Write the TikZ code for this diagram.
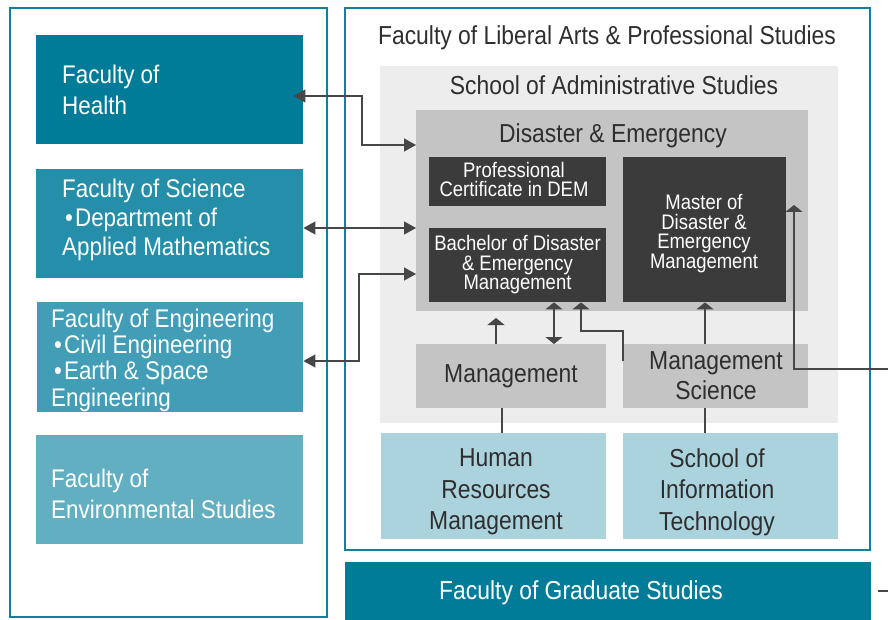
\documentclass[tikz,border=0pt]{standalone}
\usepackage{fontspec}
\setmainfont{Liberation Sans}[FakeStretch=0.88]
\usetikzlibrary{arrows.meta,positioning}
\lineskiplimit=-50pt

\definecolor{tealA}{HTML}{007B98}
\definecolor{tealB}{HTML}{258FA9}
\definecolor{tealC}{HTML}{419EB6}
\definecolor{tealD}{HTML}{63AFC2}
\definecolor{frameteal}{HTML}{11809C}
\definecolor{paleblue}{HTML}{ABD3DD}
\definecolor{greyA}{HTML}{EDEDED}
\definecolor{greyB}{HTML}{C4C4C4}
\definecolor{greyC}{HTML}{3B3B3B}
\definecolor{inkgrey}{HTML}{2E2E2E}
\definecolor{linegrey}{HTML}{464646}

\tikzset{
    block/.style={rectangle, draw=none, inner sep=0pt, anchor=north west},
    frame/.style={draw=frameteal, line width=2pt},
    bigtext/.style={font=\fontsize{26}{31}\selectfont, text=inkgrey, inner sep=0pt, align=center},
    smalltext/.style={font=\fontsize{21}{19.6}\selectfont, text=white, inner sep=0pt, align=center},
    lefttext/.style={font=\fontsize{25.5}{30}\selectfont, text=white, inner sep=0pt, align=left, anchor=west},
    conn/.style={draw=linegrey, line width=1.3pt},
    hboth/.style={conn, {Triangle[length=12pt,width=13pt]}-{Triangle[length=12pt,width=13pt]}},
    vup/.style={conn, -{Triangle[length=7pt,width=17pt]}},
    vboth/.style={conn, {Triangle[length=7pt,width=17pt]}-{Triangle[length=7pt,width=17pt]}}
}

\begin{document}
\begin{tikzpicture}[x=1pt, y=-1pt]
    \useasboundingbox (0,0) rectangle (888,620);

    % left column of faculties
    \draw[frame] (10,8) rectangle (326.5,616.5);
    \node[block, fill=tealA, minimum width=267pt, minimum height=109pt] (health) at (36,35) {};
    \node[block, fill=tealB, minimum width=267pt, minimum height=109pt] (science) at (36,169) {};
    \node[block, fill=tealC, minimum width=266pt, minimum height=110pt] (engin) at (37,302) {};
    \node[block, fill=tealD, minimum width=267pt, minimum height=109pt] (environ) at (36,435) {};

    \node[lefttext, font=\fontsize{25.5}{31}\selectfont] (healthtxt) at (62,90) {Faculty of\\Health};
    \node[lefttext, font=\fontsize{25.5}{29}\selectfont] (sciencetxt) at (62,219.5)
        {Faculty of Science\\\hspace{3pt}•\hspace{2pt}Department of\\Applied Mathematics};
    \node[lefttext, font=\fontsize{25.5}{26.3}\selectfont] (engintxt) at (51,360)
        {Faculty of Engineering\\\hspace{3pt}•\hspace{2pt}Civil Engineering\\\hspace{3pt}•\hspace{2pt}Earth \& Space\\Engineering};
    \node[lefttext, font=\fontsize{25.5}{31}\selectfont] (environtxt) at (51,493.4) {Faculty of\\Environmental Studies};

    % liberal arts and its schools
    \draw[frame] (345,8) rectangle (870,550);
    \node[bigtext, anchor=base] (libtitle) at (607,45) {Faculty of Liberal Arts \& Professional Studies};
    \node[block, fill=greyA, minimum width=458pt, minimum height=357pt] (school) at (380,66) {};
    \node[bigtext, anchor=base] (schooltitle) at (614,95) {School of Administrative Studies};
    \node[block, fill=greyB, minimum width=392pt, minimum height=201pt] (disaster) at (416,110) {};
    \node[bigtext, anchor=base] (distitle) at (613,143) {Disaster \& Emergency};

    \node[block, fill=greyC, minimum width=177pt, minimum height=49pt] (cert) at (429,157) {};
    \node[block, fill=greyC, minimum width=177pt, minimum height=74pt] (bachelor) at (429,228) {};
    \node[block, fill=greyC, minimum width=163pt, minimum height=145pt] (master) at (623,157) {};
    \node[smalltext] (certtxt) at (514,179.5) {Professional\\Certificate in DEM};
    \node[smalltext] (bachtxt) at (517.5,264.7) {Bachelor of Disaster\\\& Emergency\\Management};
    \node[smalltext] (mastertxt) at (704,233.7) {Master of\\Disaster \&\\Emergency\\Management};

    \node[block, fill=greyB, minimum width=190pt, minimum height=64pt] (mgmt) at (416,344) {};
    \node[block, fill=greyB, minimum width=185pt, minimum height=64pt] (mgmtsci) at (623,344) {};
    \node[bigtext, anchor=base] (mgmttxt) at (511,382) {Management};
    \node[bigtext, font=\fontsize{26}{30}\selectfont] (mgmtscitxt) at (716,375.5) {Management\\Science};

    \node[block, fill=paleblue, minimum width=225pt, minimum height=106pt] (hrm) at (381,433) {};
    \node[block, fill=paleblue, minimum width=215pt, minimum height=106pt] (sit) at (623,433) {};
    \node[bigtext, font=\fontsize{26}{31.5}\selectfont] (hrmtxt) at (496,491.8) {Human\\Resources\\Management};
    \node[bigtext, font=\fontsize{26}{31.5}\selectfont] (sittxt) at (717,491.8) {School of\\Information\\Technology};

    % graduate studies
    \node[block, fill=tealA, minimum width=526pt, minimum height=62pt] (grad) at (345,562) {};
    \node[bigtext, text=white, anchor=base] (gradtxt) at (581,599) {Faculty of Graduate Studies};

    % free ends at the right edge
    \coordinate (extin) at (888,369);
    \coordinate (mastertip) at (794,205);
    \coordinate (gradout) at (878,591);
    \coordinate (gradedge) at (888,591);

    % connectors
    \draw[hboth, shorten <=-10pt] (health.east |- 0,96) -| (362,145) -- (disaster.west |- 0,145);
    \draw[hboth] (science.east |- 0,228) -- (disaster.west |- 0,228);
    \draw[hboth] (engin.east |- 0,361) -| (359,274) -- (disaster.west |- 0,274);
    \draw[vup] (mgmt.north -| 496,0) -- ++(0,-26);
    \draw[vboth] (mgmt.north -| 554,0) -- (bachelor.south -| 554,0);
    \draw[vup] (mgmtsci.west |- 0,361) |- (581,331) -- (bachelor.south -| 581,0);
    \draw[vup] (mgmtsci.north -| 705,0) -- (master.south -| 705,0);
    \draw[vup] (extin) -| (mastertip);
    \draw[conn] (gradout) -- (gradedge);
    \draw[conn] (mgmt.south -| 502,0) -- (hrm.north -| 502,0);
    \draw[conn] (mgmtsci.south -| 705,0) -- (sit.north -| 705,0);
\end{tikzpicture}
\end{document}
